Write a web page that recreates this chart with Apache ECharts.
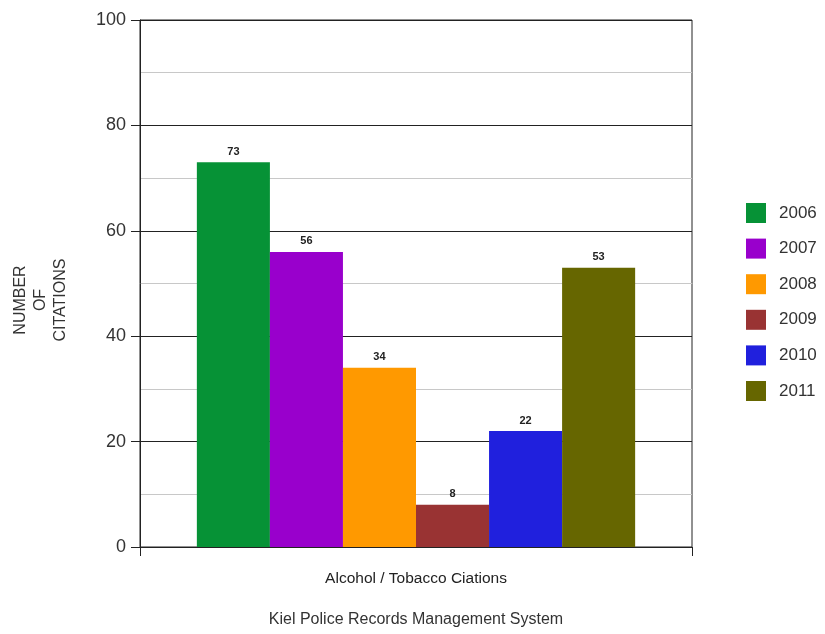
<!DOCTYPE html>
<html><head><meta charset="utf-8">
<script src="https://cdn.jsdelivr.net/npm/echarts@6/dist/echarts.min.js"></script>
<style>html,body{margin:0;padding:0;background:#fff}#c{width:825px;height:634px}</style>
</head><body><div id="c"></div>
<script>
const categories = ['Alcohol / Tobacco Ciations'];
const years = ['2006', '2007', '2008', '2009', '2010', '2011'];
const values = [73, 56, 34, 8, 22, 53];
const colors = ['#069236', '#9900cc', '#ff9900', '#993333', '#2020dd', '#666600'];
const yTicks = [0, 20, 40, 60, 80, 100];

const FONT = '"Liberation Sans", Arial, sans-serif';
const chart = echarts.init(document.getElementById('c'), null, {renderer: 'canvas'});
const series = years.map((y, i) => ({
  name: y,
  type: 'bar',
  data: [values[i]],
  itemStyle: {color: colors[i]},
  barGap: '0%',
  barCategoryGap: '20.6%',
  label: {show: true, position: 'top', distance: 5, color: '#222', fontWeight: 'bold', fontSize: 11, fontFamily: FONT}
}));
chart.setOption({
  animation: false,
  backgroundColor: '#fff',
  grid: {left: 140, top: 20, width: 552, height: 527, show: true, borderColor: '#222', borderWidth: 1, backgroundColor: 'transparent'},
  legend: {
    orient: 'vertical', left: 741, top: 198, itemWidth: 20, itemHeight: 20, itemGap: 15.6,
    icon: 'rect', data: years,
    textStyle: {fontSize: 17, color: '#333', fontFamily: FONT, padding: [0, 0, 0, 8]}
  },
  xAxis: {
    type: 'category', data: categories,
    axisLine: {lineStyle: {color: '#222', width: 1}},
    axisTick: {show: true, length: 9, lineStyle: {color: '#222'}},
    axisLabel: {margin: 24, fontSize: 15.5, color: '#222', fontFamily: FONT}
  },
  yAxis: {
    type: 'value', min: yTicks[0], max: yTicks[yTicks.length - 1], interval: 20,
    axisLine: {show: true, lineStyle: {color: '#222', width: 1}},
    axisTick: {show: true, length: 9, lineStyle: {color: '#222'}},
    axisLabel: {margin: 14, fontSize: 18, color: '#333', fontFamily: FONT},
    splitLine: {show: true, lineStyle: {color: '#222', width: 1}},
    minorTick: {show: false, splitNumber: 2},
    minorSplitLine: {show: true, lineStyle: {color: '#c8c8c8', width: 1}}
  },
  graphic: [
    {type: 'text', x: 41, y: 300, rotation: Math.PI / 2,
     style: {text: 'NUMBER\nOF\nCITATIONS', align: 'center', verticalAlign: 'middle', fontSize: 16, lineHeight: 20, fill: '#333', fontFamily: FONT}},
    {type: 'text', x: 416, y: 620,
     style: {text: 'Kiel Police Records Management System', align: 'center', verticalAlign: 'middle', fontSize: 16, fill: '#333', fontFamily: FONT}}
  ],
  series: series
});
</script></body></html>
